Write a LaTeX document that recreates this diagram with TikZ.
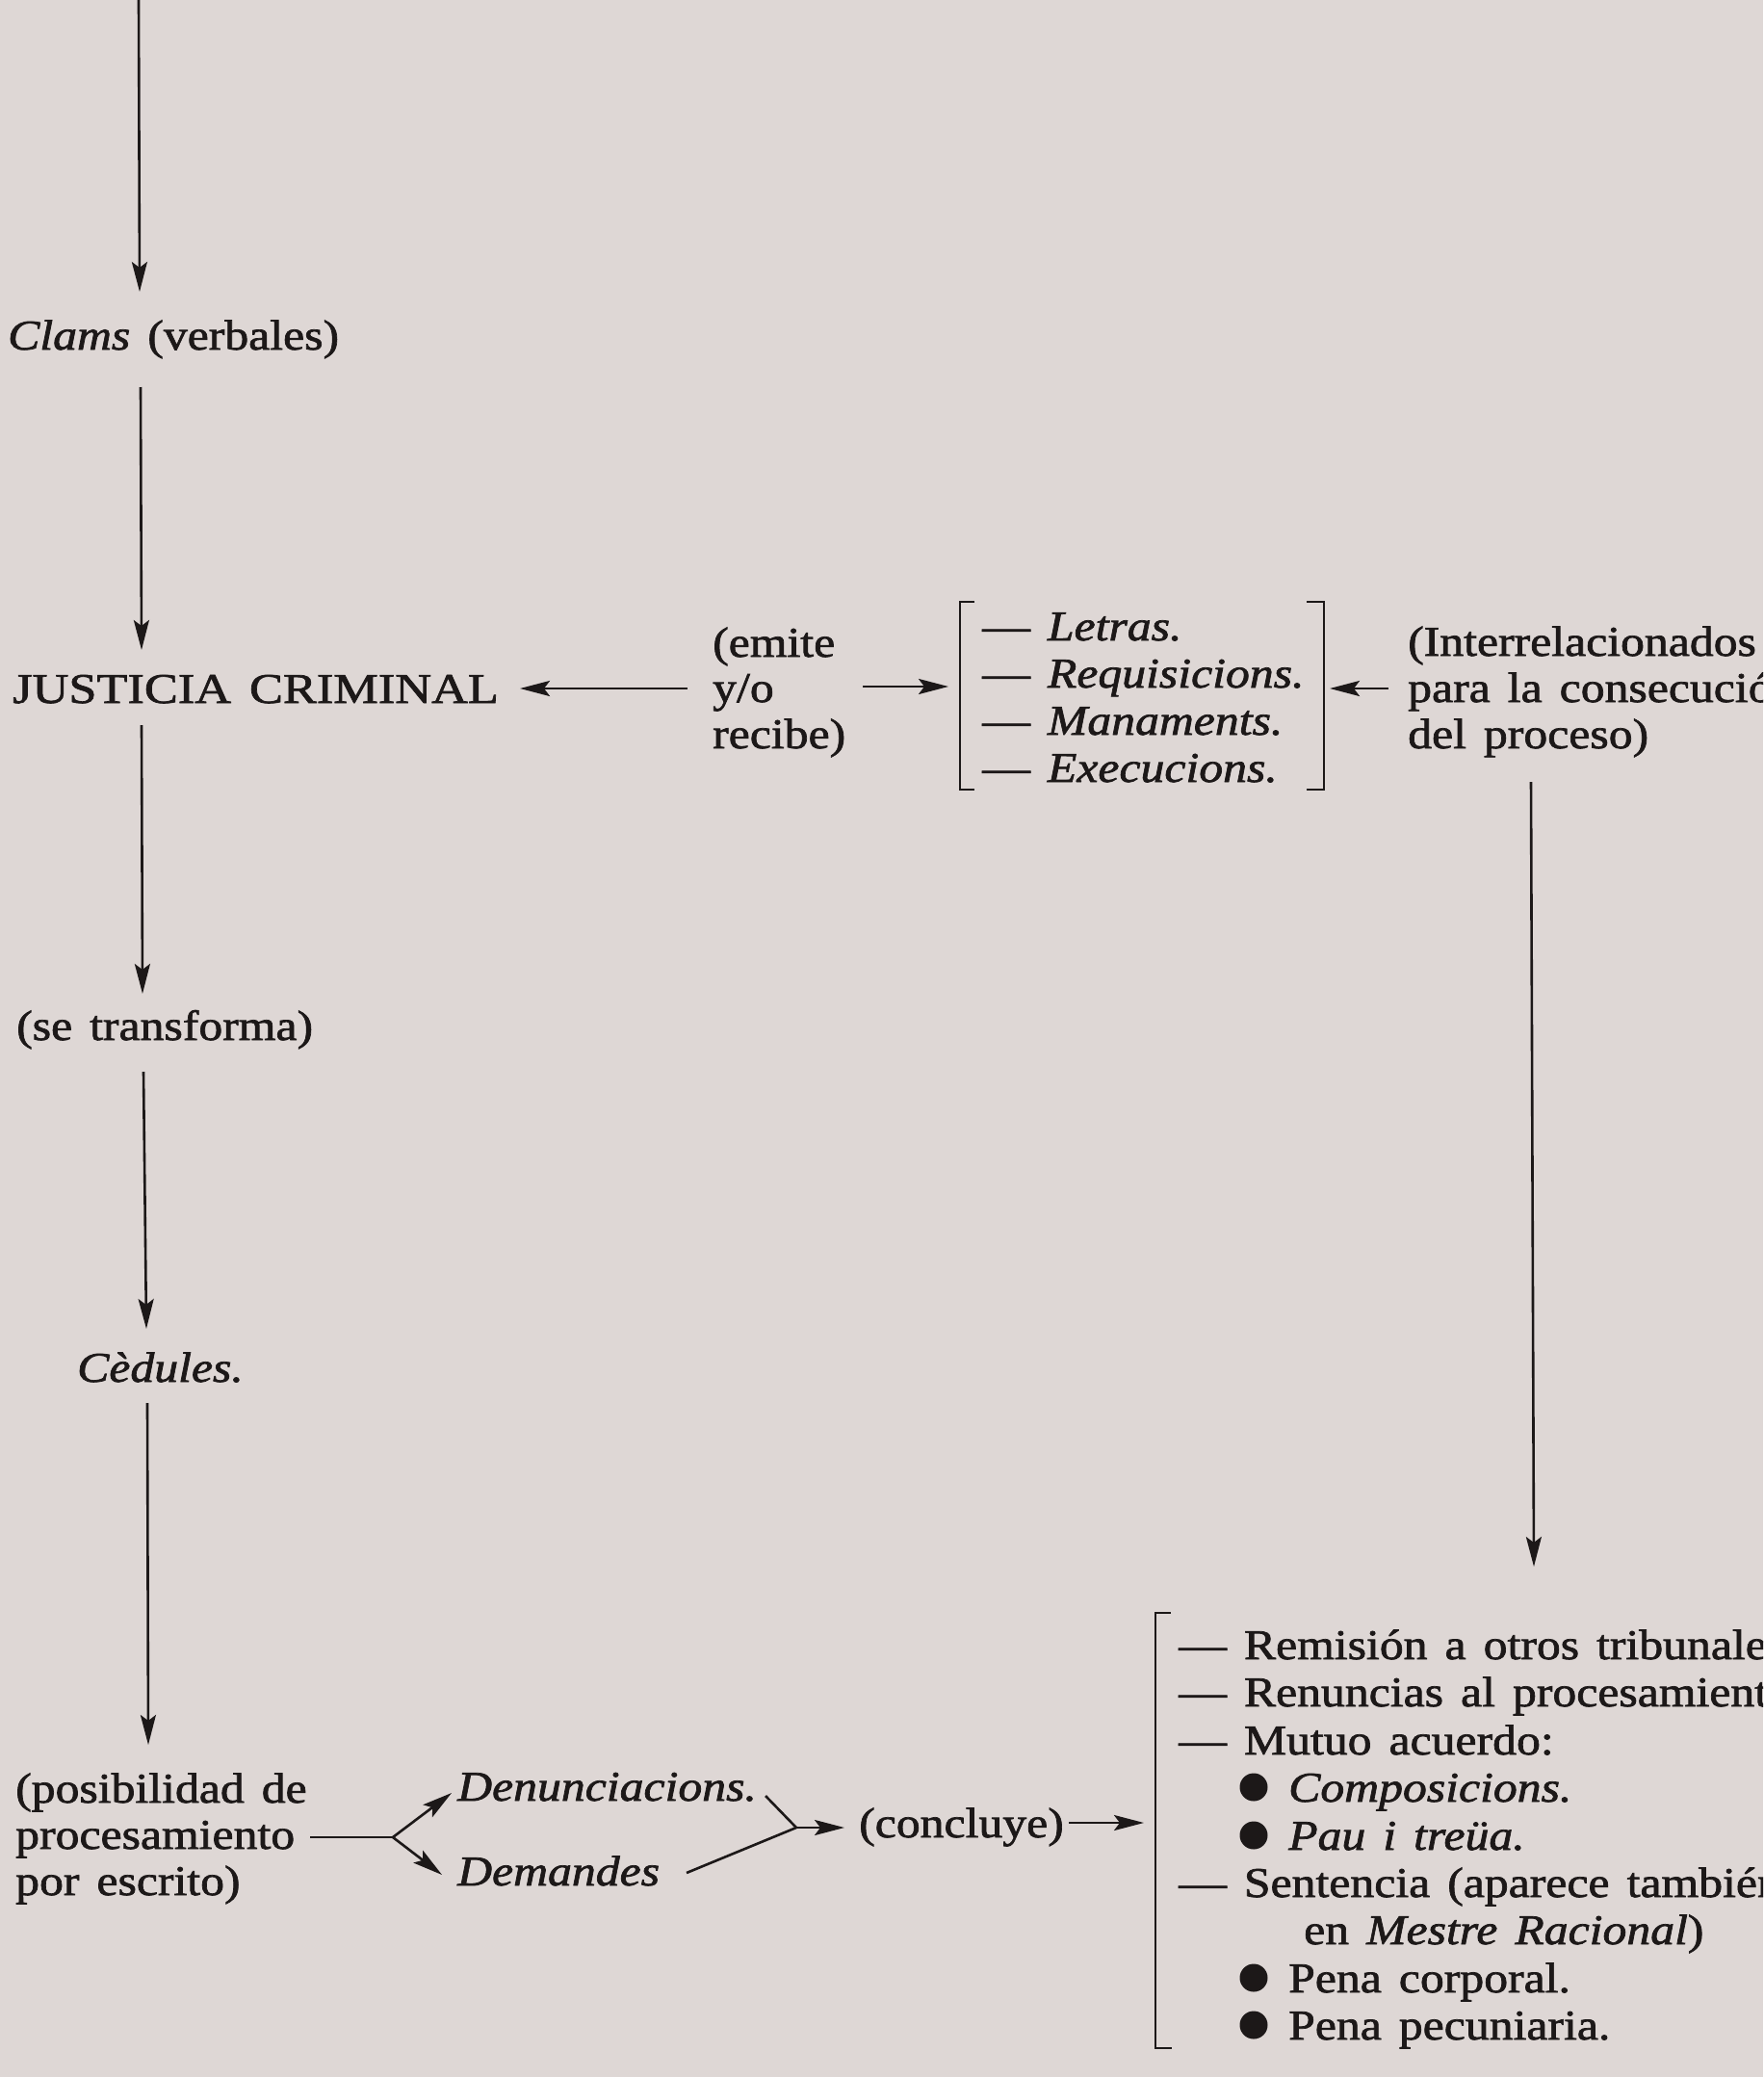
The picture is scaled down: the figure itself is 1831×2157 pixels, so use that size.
\documentclass[tikz,border=0pt]{standalone}
\usepackage{fontspec}
\setmainfont{Liberation Serif}[FakeStretch=1.13, WordSpace=1.45, FakeBold=1.6]
\usetikzlibrary{arrows.meta}
\definecolor{paper}{RGB}{222,215,213}
\definecolor{ink}{RGB}{28,24,24}
\begin{document}
\begin{tikzpicture}[x=1pt,y=-1pt,
  txt/.style={anchor=base west, inner sep=0pt, text=ink, font=\fontsize{44}{49}\selectfont},
  arr/.style={draw=ink, line width=2.6pt, -{Stealth[length=31pt,width=16pt,inset=6pt]}},
  ln/.style={draw=ink, line width=2.6pt},
  brk/.style={draw=ink, line width=2.6pt},
  dot/.style={fill=ink}]
\fill[paper] (0,0) rectangle (1831,2157);
\useasboundingbox (0,0) rectangle (1831,2157);
\clip (0,0) rectangle (1831,2157);

% ---------- left column texts ----------
\node[txt] (clams) at (8,363) {\textit{Clams} (verbales)};
\node[txt] (justicia) at (13,730) {\addfontfeatures{FakeStretch=1.19}JUSTICIA CRIMINAL};
\node[txt] (transf) at (17,1080) {(se transforma)};
\node[txt] (cedules) at (80,1435) {\textit{Cèdules.}};
\node[txt] (pos1) at (16,1872) {(posibilidad de};
\node[txt] (pos2) at (16,1920) {procesamiento};
\node[txt] (pos3) at (16,1968) {por escrito)};

% ---------- middle texts ----------
\node[txt] (emite1) at (740,682) {(emite};
\node[txt] (emite2) at (740,729) {y/o};
\node[txt] (emite3) at (740,777) {recibe)};

\node[txt] (letras) at (1020,665) {— \textit{Letras.}};
\node[txt] (requi) at (1020,714) {— \textit{Requisicions.}};
\node[txt] (manam) at (1020,763) {— \textit{Manaments.}};
\node[txt] (execu) at (1020,812) {— \textit{Execucions.}};

\node[txt] (inter1) at (1462,681) {(Interrelacionados};
\node[txt] (inter2) at (1462,729) {para la consecución};
\node[txt] (inter3) at (1462,777) {del proceso)};

\node[txt] (denun) at (475,1870) {\textit{Denunciacions.}};
\node[txt] (deman) at (475,1958) {\textit{Demandes}};
\node[txt] (concl) at (892,1908) {(concluye)};

% ---------- right list ----------
\node[txt] (r1) at (1224,1723) {— Remisión a otros tribunales};
\node[txt] (r2) at (1224,1772) {— Renuncias al procesamiento};
\node[txt] (r3) at (1224,1822) {— Mutuo acuerdo:};
\node[txt] (r4) at (1338,1871) {\textit{Composicions.}};
\node[txt] (r5) at (1338,1921) {\textit{Pau i treüa.}};
\node[txt] (r6) at (1224,1970) {— Sentencia (aparece también};
\node[txt] (r7) at (1354,2019) {en \textit{Mestre Racional})};
\node[txt] (r8) at (1338,2069) {Pena corporal.};
\node[txt] (r9) at (1338,2118) {Pena pecuniaria.};

\foreach \yy in {1871,1921,2069,2118}
  \fill[dot] (1302,\yy-15) circle (14.5pt);

% ---------- main vertical chain ----------
\coordinate (a0) at (144,0);    \coordinate (a1) at (145,303);
\coordinate (b0) at (146,402);  \coordinate (b1) at (147,675);
\coordinate (c0) at (147,753);  \coordinate (c1) at (148,1032);
\coordinate (d0) at (149,1113); \coordinate (d1) at (152,1380);
\coordinate (e0) at (153,1457); \coordinate (e1) at (154,1812);
\draw[arr] (a0) -- (a1);
\draw[arr] (b0) -- (b1);
\draw[arr] (c0) -- (c1);
\draw[arr] (d0) -- (d1);
\draw[arr] (e0) -- (e1);

% ---------- horizontal arrows around emite ----------
\coordinate (jl0) at (714,715); \coordinate (jl1) at (540,715);
\coordinate (br0) at (896,713); \coordinate (br1) at (985,713);
\draw[arr] (jl0) -- (jl1);
\draw[arr] (br0) -- (br1);

% ---------- brackets ----------
\draw[brk] (1012,625) -- (997,625) -- (997,820) -- (1012,820);
\draw[brk] (1357,625) -- (1375,625) -- (1375,820) -- (1357,820);
\draw[brk] (1216,1675) -- (1200,1675) -- (1200,2127) -- (1217,2127);

% ---------- Interrelacionados arrows ----------
\coordinate (il0) at (1442,715); \coordinate (il1) at (1381,715);
\draw[arr] (il0) -- (il1);
\coordinate (v0) at (1590,812); \coordinate (v1) at (1593,1627);
\draw[arr] (v0) -- (v1);

% ---------- fork ----------
\coordinate (f0) at (322,1908); \coordinate (fk) at (408,1908);
\coordinate (fu) at (469,1862); \coordinate (fd) at (459,1947);
\draw[ln] (f0) -- (fk);
\draw[arr] (fk) -- (fu);
\draw[arr] (fk) -- (fd);

% ---------- join ----------
\coordinate (ju) at (795,1865); \coordinate (jd) at (713,1945);
\coordinate (jk) at (827,1898); \coordinate (jt) at (877,1898);
\draw[ln] (ju) -- (jk);
\draw[ln] (jd) -- (jk);
\draw[arr] (jk) -- (jt);
\coordinate (k0) at (1110,1893); \coordinate (k1) at (1188,1893);
\draw[arr] (k0) -- (k1);
\end{tikzpicture}
\end{document}
